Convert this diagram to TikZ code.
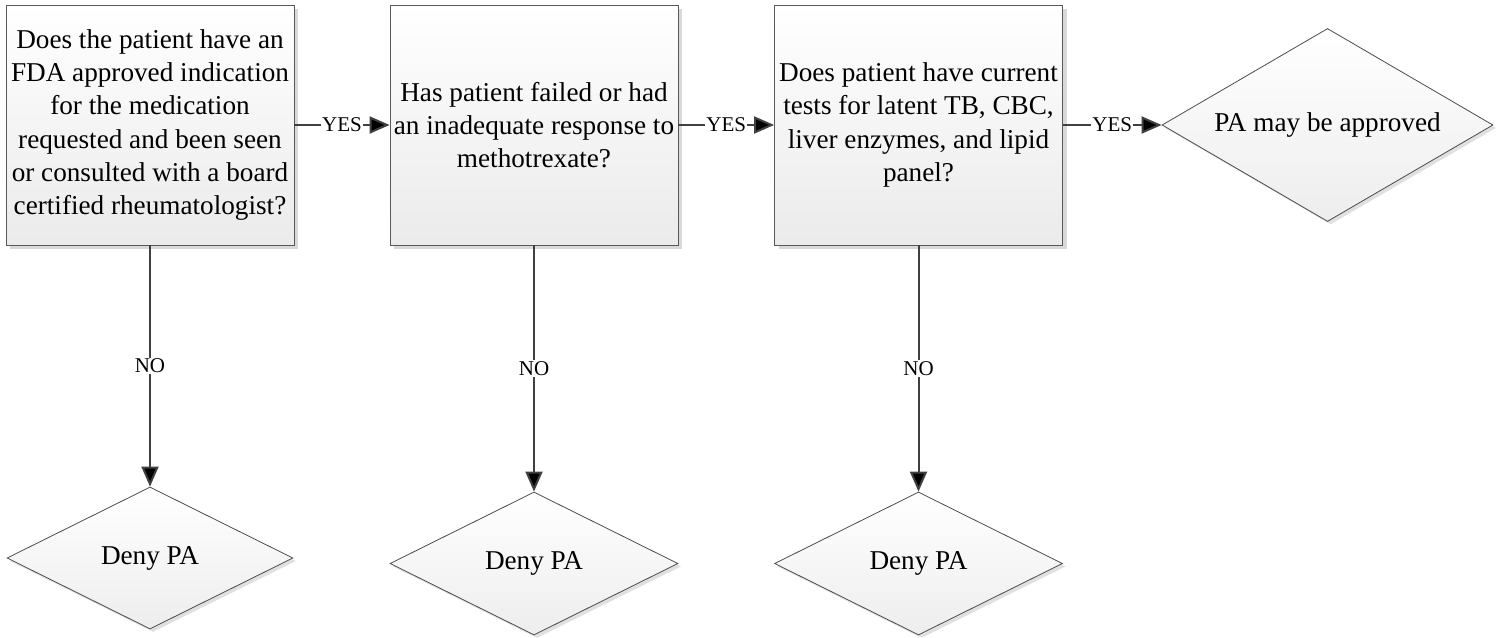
\documentclass[tikz,border=0pt]{standalone}
\usepackage{fontspec}
\setmainfont{Liberation Serif}
\usetikzlibrary{shapes.geometric,shadows,arrows.meta}

\begin{document}
\begin{tikzpicture}[x=1pt,y=-1pt,
    question/.style={shape=rectangle,draw=black!65,line width=0.8pt,
        top color=white,bottom color=black!8,
        drop shadow={shadow xshift=4pt,shadow yshift=-4pt,fill=black!15,opacity=1},
        minimum width=288pt,minimum height=240pt,inner sep=0pt,align=center,
        font=\fontsize{27.2}{33.3}\selectfont},
    outcome/.style={shape=diamond,draw=black!70,line width=0.8pt,
        top color=white,bottom color=black!7,
        drop shadow={shadow xshift=3pt,shadow yshift=-3pt,fill=black!12,opacity=1},
        inner sep=0pt,aspect=2,font=\fontsize{27.2}{32}\selectfont},
    flow/.style={-{Triangle[length=20pt,width=17pt]},line width=2pt,draw=black!75},
    answer/.style={fill=white,inner sep=1pt,font=\fontsize{21}{24}\selectfont}]

    \useasboundingbox (0,0) rectangle (1506,637);

    \node[question] (q1) at (150, 125)  {Does the patient have an\\FDA approved indication\\for the medication\\requested and been seen\\or consulted with a board\\certified rheumatologist?};
    \node[question] (q2) at (534, 125)  {Has patient failed or had\\an inadequate response to\\methotrexate?};
    \node[question] (q3) at (918.5, 125) {Does patient have current\\tests for latent TB, CBC,\\liver enzymes, and lipid\\panel?};

    \node[outcome,minimum width=331pt,minimum height=193pt] (ok) at (1327.5, 125) {PA may be approved};

    \node[outcome,minimum width=286pt,minimum height=142pt] (deny1) at (150, 558)   {Deny PA};
    \node[outcome,minimum width=288pt,minimum height=143pt] (deny2) at (534, 563.5) {Deny PA};
    \node[outcome,minimum width=288pt,minimum height=143pt] (deny3) at (918.5, 563.5) {Deny PA};

    \path[flow] (q1) edge node[answer] {YES} (q2);
    \path[flow] (q2) edge node[answer] {YES} (q3);
    \path[flow] (q3) edge node[answer] {YES} (ok);

    \path[flow] (q1) edge node[answer] {NO} (deny1);
    \path[flow] (q2) edge node[answer] {NO} (deny2);
    \path[flow] (q3) edge node[answer] {NO} (deny3);

\end{tikzpicture}
\end{document}
